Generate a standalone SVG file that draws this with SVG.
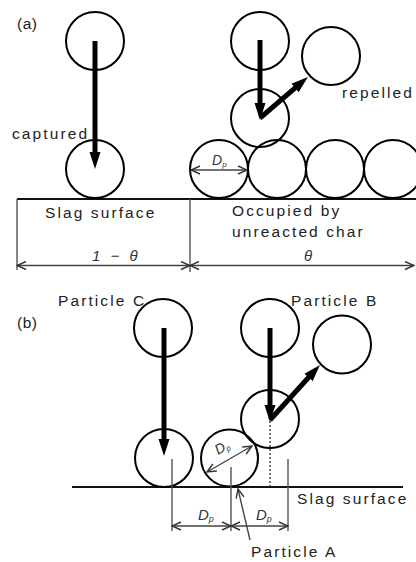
<svg xmlns="http://www.w3.org/2000/svg" width="416" height="562" viewBox="0 0 416 562">
<style>
.c{fill:none;stroke:#000;stroke-width:2}
.thick{stroke:#000;stroke-width:5;fill:none;marker-end:url(#ah)}
.dim{stroke:#444;stroke-width:1.4;fill:none;marker-start:url(#ch);marker-end:url(#ch)}
.dimE{stroke:#444;stroke-width:1.4;fill:none;marker-end:url(#ch)}
.thin{stroke:#555;stroke-width:1.4;fill:none}
.base{stroke:#111;stroke-width:2;fill:none}
.t{font-family:"Liberation Sans",Arial,sans-serif;font-size:15.5px;letter-spacing:2.1px;fill:#222}
.m{font-family:"Liberation Sans",Arial,sans-serif;font-style:italic;fill:#333}
</style>
<defs>
<marker id="ah" markerUnits="userSpaceOnUse" markerWidth="17" markerHeight="12" viewBox="0 0 17 12" refX="1" refY="6" orient="auto">
<path d="M0,0.5 L17,6 L0,11.5 z" fill="#000"/>
</marker>
<marker id="ch" markerUnits="userSpaceOnUse" markerWidth="11" markerHeight="10" viewBox="-1 -1 11 10" refX="9" refY="4" orient="auto-start-reverse">
<path d="M0,0 L9,4 L0,8" fill="none" stroke="#333" stroke-width="1.4"/>
</marker>
</defs>

<g id="labels">
<text class="t" x="17" y="29" style="letter-spacing:0.5px">(a)</text>
<text class="t" x="17" y="328" style="letter-spacing:0.5px">(b)</text>
</g>

<!-- Part (a) -->
<g id="surface-a">
<path class="base" d="M17,199 H416"/>
<path class="thin" d="M17,199 V270 M190,199 V272"/>
<text class="t" x="45" y="218">Slag surface</text>
<text class="t" x="232" y="216">Occupied by</text>
<text class="t" x="232" y="237">unreacted char</text>
</g>
<g id="captured-a">
<circle class="c" cx="95" cy="41" r="29"/>
<circle class="c" cx="95" cy="169" r="29"/>
<text class="t" x="12" y="139">captured</text>
</g>
<g id="repelled-a">
<circle class="c" cx="260" cy="41" r="29"/>
<circle class="c" cx="260" cy="118" r="29"/>
<circle class="c" cx="331" cy="56" r="29"/>
<text class="t" x="342" y="98">repelled</text>
</g>
<g id="char-row">
<circle class="c" cx="219" cy="169" r="29"/>
<circle class="c" cx="277" cy="169" r="29"/>
<circle class="c" cx="335" cy="169" r="29"/>
<circle class="c" cx="393" cy="169" r="29"/>
<text class="m" x="212" y="165" font-size="14">D<tspan font-size="8" dy="2">p</tspan></text>
</g>
<g id="dims-a">
<text class="m" x="92" y="261" font-size="15" letter-spacing="3">1 − θ</text>
<text class="m" x="304" y="261" font-size="15">θ</text>
</g>

<!-- Part (b) -->
<g id="surface-b">
<path class="base" d="M72,487 H403"/>
<text class="t" x="297" y="504">Slag surface</text>
</g>
<g id="particle-c">
<circle class="c" cx="163" cy="328" r="29"/>
<circle class="c" cx="164" cy="458" r="29"/>
<text class="t" x="58" y="306">Particle C</text>
</g>
<g id="particle-a">
<circle class="c" cx="229.5" cy="458" r="28.5"/>
<text class="m" x="0" y="0" font-size="14" transform="translate(218,455) rotate(-30)">D<tspan font-size="8" dy="2">p</tspan></text>
<text class="t" x="251" y="557">Particle A</text>
</g>
<g id="particle-b">
<circle class="c" cx="270" cy="328" r="29"/>
<circle class="c" cx="270" cy="419" r="29"/>
<circle class="c" cx="342" cy="344.5" r="29"/>
<text class="t" x="291" y="306">Particle B</text>
</g>
<g id="dims-b">
<text class="m" x="198" y="520" font-size="15">D<tspan font-size="9" dy="2">p</tspan></text>
<text class="m" x="256" y="520" font-size="15">D<tspan font-size="9" dy="2">p</tspan></text>
</g>

<g id="connectors">
<line class="thick" x1="95" y1="41" x2="95" y2="153"/>
<line class="thick" x1="260" y1="40" x2="260" y2="104"/>
<line class="thick" x1="260" y1="118" x2="295.8" y2="87.4"/>
<line class="dim" x1="17" y1="265.5" x2="190" y2="265.5"/>
<line class="dim" x1="190" y1="265.5" x2="414" y2="265.5"/>
<line class="dim" x1="191" y1="170" x2="247" y2="170"/>

<line class="thick" x1="164" y1="328" x2="164" y2="440"/>
<line class="thick" x1="270" y1="328" x2="270" y2="406"/>
<line class="thick" x1="270" y1="420" x2="309.2" y2="376.8"/>
<line class="dim" x1="207" y1="472" x2="252" y2="446"/>
<path class="thin" d="M172,459 V531 M231,467 V531 M288,459 V531"/>
<line x1="270" y1="421" x2="270" y2="487" stroke="#222" stroke-width="1.2" stroke-dasharray="2,2"/>
<line class="dim" x1="172" y1="526" x2="231" y2="526"/>
<line class="dim" x1="231" y1="526" x2="288" y2="526"/>
<line class="dimE" x1="250" y1="540" x2="238" y2="489"/>
</g>
</svg>
